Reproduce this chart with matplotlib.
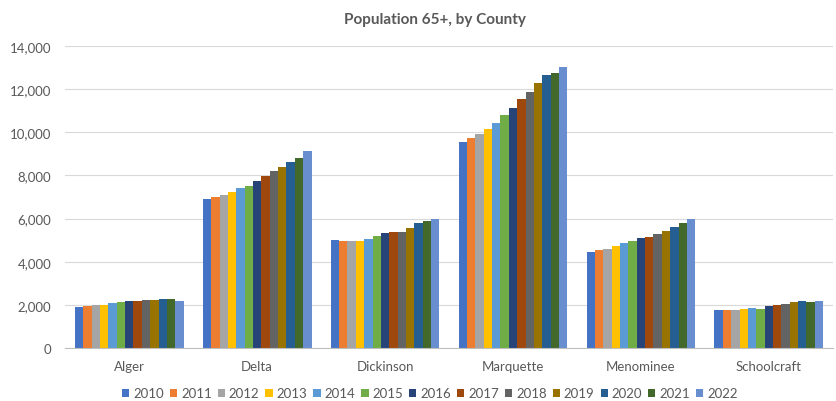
import numpy as np
import matplotlib.pyplot as plt

plt.rcParams['font.family'] = ['Lato', 'DejaVu Sans']

# county population aged 65+, one list per year
counties = ["Alger", "Delta", "Dickinson", "Marquette", "Menominee", "Schoolcraft"]
years = ["2010", "2011", "2012", "2013", "2014", "2015", "2016",
         "2017", "2018", "2019", "2020", "2021", "2022"]

pop_2010 = [1900, 6910, 5020, 9540, 4470, 1760]
pop_2011 = [1930, 7000, 4970, 9740, 4530, 1760]
pop_2012 = [1980, 7090, 4970, 9910, 4600, 1780]
pop_2013 = [2010, 7220, 4970, 10150, 4730, 1820]
pop_2014 = [2100, 7400, 5070, 10450, 4870, 1870]
pop_2015 = [2150, 7520, 5180, 10790, 4940, 1820]
pop_2016 = [2180, 7760, 5350, 11140, 5080, 1930]
pop_2017 = [2170, 7990, 5390, 11530, 5160, 1990]
pop_2018 = [2210, 8210, 5370, 11880, 5300, 2050]
pop_2019 = [2240, 8390, 5550, 12270, 5440, 2120]
pop_2020 = [2270, 8610, 5810, 12670, 5590, 2180]
pop_2021 = [2260, 8820, 5870, 12730, 5780, 2140]
pop_2022 = [2180, 9150, 5970, 13040, 5970, 2180]

series = [pop_2010, pop_2011, pop_2012, pop_2013, pop_2014, pop_2015, pop_2016,
          pop_2017, pop_2018, pop_2019, pop_2020, pop_2021, pop_2022]

colors = ["#4472C4", "#ED7D31", "#A5A5A5", "#FFC000", "#5B9BD5", "#70AD47",
          "#264478", "#9E480E", "#636363", "#997300", "#255E91", "#43682B",
          "#698ED0"]

fig = plt.figure(figsize=(8.37, 4.02), dpi=100)
ax = fig.add_axes([0.078, 0.132, 0.917, 0.751])

x = np.arange(len(counties))
group_w = 0.85
bar_w = group_w / len(years)
for i, (yr, vals) in enumerate(zip(years, series)):
    offs = -group_w / 2 + bar_w * (i + 0.5)
    ax.bar(x + offs, vals, width=bar_w, color=colors[i], label=yr, zorder=2)

ax.set_xlim(-0.5, len(counties) - 0.5)
ax.set_ylim(0, 14000)
ax.set_yticks(np.arange(0, 14001, 2000))
ax.set_yticklabels([f"{v:,}" for v in range(0, 14001, 2000)])
ax.set_xticks(x)
ax.set_xticklabels(counties)

ax.grid(axis="y", color="#D9D9D9", linewidth=0.8, zorder=0)
for side in ["top", "right", "left"]:
    ax.spines[side].set_visible(False)
ax.spines["bottom"].set_color("#BFBFBF")
ax.tick_params(axis="both", length=0, colors="#595959", labelsize=9.5)
ax.tick_params(axis="y", pad=10)
ax.tick_params(axis="x", pad=9)

fig.text(0.52, 0.95, "Population 65+, by County", ha="center", va="center",
         fontsize=11, fontweight="bold", color="#595959")

ax.legend(loc="upper center", bbox_to_anchor=(0.475, -0.10), ncol=13,
          frameon=False, fontsize=9.5, handlelength=0.55, handleheight=0.55,
          handletextpad=0.3, columnspacing=0.45, labelcolor="#595959",
          borderpad=0.2)

fig.savefig("out.png", dpi=100)
